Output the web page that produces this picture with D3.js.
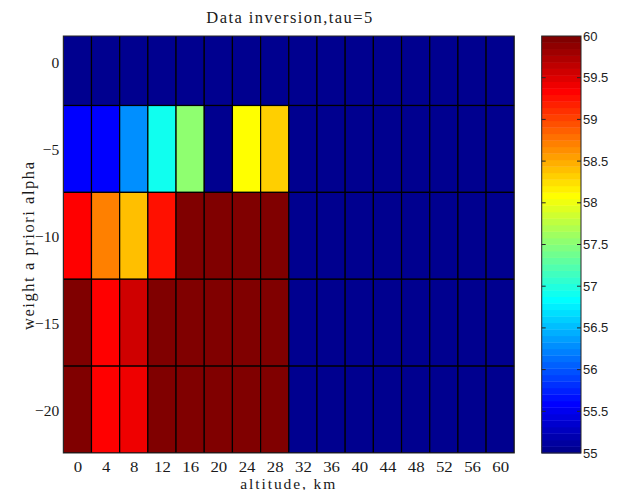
<!DOCTYPE html>
<html>
<head>
<meta charset="utf-8">
<script src="https://cdn.jsdelivr.net/npm/d3@7"></script>
<style>
  html, body { margin: 0; padding: 0; background: #fff; }
  svg { display: block; }
</style>
</head>
<body>
<svg id="chart" width="624" height="490"></svg>
<script>
// Altitude columns (km) and a-priori weight rows
const altitudes = [0, 4, 8, 12, 16, 20, 24, 28, 32, 36, 40, 44, 48, 52, 56, 60];
const alphas = [0, -5, -10, -15, -20];

// Inverted values per weight row, one entry per altitude
const rowAlpha0   = [55, 55, 55, 55, 55, 55, 55, 55, 55, 55, 55, 55, 55, 55, 55, 55];
const rowAlpha5   = [55.6, 55.6, 56.3, 56.9, 57.5, 55, 58.1, 58.3, 55, 55, 55, 55, 55, 55, 55, 55];
const rowAlpha10  = [59.35, 58.7, 58.4, 59.25, 60, 60, 60, 60, 55, 55, 55, 55, 55, 55, 55, 55];
const rowAlpha15  = [60, 59.35, 59.55, 60, 60, 60, 60, 60, 55, 55, 55, 55, 55, 55, 55, 55];
const rowAlpha20  = [60, 59.35, 59.42, 60, 60, 60, 60, 60, 55, 55, 55, 55, 55, 55, 55, 55];
const valueRows = [rowAlpha0, rowAlpha5, rowAlpha10, rowAlpha15, rowAlpha20];

const colorLimits = [55, 60];
const colorbarTicks = [55, 55.5, 56, 56.5, 57, 57.5, 58, 58.5, 59, 59.5, 60];
const yTicks = [0, -5, -10, -15, -20];

const titleText = "Data inversion,tau=5";
const xLabelText = "altitude, km";
const yLabelText = "weight a priori alpha";

// Classic 64-step jet colormap
function jetTable(m) {
  const n = Math.ceil(m / 4);
  const u = [];
  for (let i = 1; i <= n; i++) u.push(i / n);
  for (let i = 1; i < n; i++) u.push(1);
  for (let i = n; i >= 1; i--) u.push(i / n);
  const gOff = Math.ceil(n / 2) - (m % 4 === 1 ? 1 : 0);
  const J = Array.from({length: m}, () => [0, 0, 0]);
  u.forEach((val, k) => {
    const g = gOff + k + 1, r = g + n, b = g - n;
    if (r <= m) J[r - 1][0] = val;
    if (g <= m) J[g - 1][1] = val;
    if (b >= 1) J[b - 1][2] = val;
  });
  return J.map(c => d3.rgb(c[0] * 255, c[1] * 255, c[2] * 255).formatHex());
}
const jet = jetTable(64);
const colorScale = d3.scaleQuantize().domain(colorLimits).range(jet);
const colorOf = v => colorScale(Math.max(colorLimits[0], Math.min(colorLimits[1], v)));

const svg = d3.select("#chart");
const plot = {left: 63.3, right: 514.3, top: 36, bottom: 453};

const x = d3.scaleLinear().domain([-2, 62]).range([plot.left, plot.right]);
const y = d3.scaleLinear().domain([1.5, -22.5]).range([plot.top, plot.bottom]);

svg.append("defs").append("clipPath").attr("id", "plotClip")
  .append("rect")
  .attr("x", plot.left).attr("y", plot.top)
  .attr("width", plot.right - plot.left).attr("height", plot.bottom - plot.top);

// Heatmap cells
const cells = [];
alphas.forEach((a, i) => altitudes.forEach((h, j) => cells.push({a, h, v: valueRows[i][j]})));

svg.append("g").attr("clip-path", "url(#plotClip)")
  .selectAll("rect").data(cells).join("rect")
  .attr("x", d => x(d.h - 2))
  .attr("y", d => y(d.a + 2.5))
  .attr("width", d => x(d.h + 2) - x(d.h - 2))
  .attr("height", d => y(d.a - 2.5) - y(d.a + 2.5))
  .attr("fill", d => colorOf(d.v))
  .attr("stroke", "#000")
  .attr("stroke-width", 1.2);

// Axes frame
svg.append("rect")
  .attr("x", plot.left).attr("y", plot.top)
  .attr("width", plot.right - plot.left).attr("height", plot.bottom - plot.top)
  .attr("fill", "none").attr("stroke", "#262626").attr("stroke-width", 1);

const serif = "'Liberation Serif', 'Times New Roman', serif";
const sans = "'Liberation Sans', Arial, sans-serif";

// X axis tick labels
const xAxis = d3.axisBottom(x).tickValues(altitudes).tickSize(0).tickPadding(0)
  .tickFormat(d3.format("d"));
const gx = svg.append("g").attr("transform", `translate(0,${plot.bottom})`).call(xAxis);
gx.select(".domain").remove();
gx.selectAll("text")
  .attr("dy", null).attr("y", 19)
  .attr("font-family", serif).attr("font-size", 15).attr("fill", "#1a1a1a")
  .attr("textLength", function () { return this.getComputedTextLength() * 1.12; })
  .attr("lengthAdjust", "spacingAndGlyphs");

// Y axis tick labels
const yAxis = d3.axisLeft(y).tickValues(yTicks).tickSize(0).tickPadding(0)
  .tickFormat(d => d3.format("d")(d));
const gy = svg.append("g").attr("transform", `translate(${plot.left - 4},0)`).call(yAxis);
gy.select(".domain").remove();
gy.selectAll("text")
  .attr("x", 0).attr("dy", "0.35em")
  .attr("font-family", serif).attr("font-size", 15.5).attr("fill", "#1a1a1a");

// Title and axis labels
svg.append("text")
  .attr("x", (plot.left + plot.right) / 2 + 0.5).attr("y", 23)
  .attr("text-anchor", "middle")
  .attr("font-family", serif).attr("font-size", 16.5).attr("fill", "#1a1a1a")
  .attr("textLength", 166).attr("lengthAdjust", "spacing")
  .text(titleText);

svg.append("text")
  .attr("x", (plot.left + plot.right) / 2 - 1).attr("y", 488.5)
  .attr("text-anchor", "middle")
  .attr("font-family", serif).attr("font-size", 15.5).attr("fill", "#1a1a1a")
  .attr("textLength", 95).attr("lengthAdjust", "spacing")
  .text(xLabelText);

svg.append("text")
  .attr("transform", `translate(34,${(plot.top + plot.bottom) / 2 + 1.5}) rotate(-90)`)
  .attr("text-anchor", "middle")
  .attr("font-family", serif).attr("font-size", 16.5).attr("fill", "#1a1a1a")
  .attr("textLength", 168).attr("lengthAdjust", "spacing")
  .text(yLabelText);

// Colorbar
const cb = {left: 541.7, right: 581, top: 36, bottom: 453};
const cy = d3.scaleLinear().domain(colorLimits).range([cb.bottom, cb.top]);
const step = (colorLimits[1] - colorLimits[0]) / jet.length;
svg.append("g").selectAll("rect").data(jet).join("rect")
  .attr("x", cb.left)
  .attr("y", (c, i) => cy(colorLimits[0] + (i + 1) * step))
  .attr("width", cb.right - cb.left)
  .attr("height", (c, i) => cy(colorLimits[0] + i * step) - cy(colorLimits[0] + (i + 1) * step) + 0.4)
  .attr("fill", c => c);

svg.append("rect")
  .attr("x", cb.left).attr("y", cb.top)
  .attr("width", cb.right - cb.left).attr("height", cb.bottom - cb.top)
  .attr("fill", "none").attr("stroke", "#262626").attr("stroke-width", 1);

const cbTicks = svg.append("g");
cbTicks.selectAll("line.l").data(colorbarTicks.slice(1, -1)).join("line")
  .attr("class", "l")
  .attr("x1", cb.left).attr("x2", cb.left + 4)
  .attr("y1", d => cy(d)).attr("y2", d => cy(d))
  .attr("stroke", "#262626");
cbTicks.selectAll("line.r").data(colorbarTicks.slice(1, -1)).join("line")
  .attr("class", "r")
  .attr("x1", cb.right - 4).attr("x2", cb.right)
  .attr("y1", d => cy(d)).attr("y2", d => cy(d))
  .attr("stroke", "#262626");

svg.append("g").selectAll("text").data(colorbarTicks).join("text")
  .attr("x", cb.right + 2)
  .attr("y", d => cy(d))
  .attr("dy", "0.35em")
  .attr("font-family", sans).attr("font-size", 13).attr("fill", "#222")
  .text(d => String(d));
</script>
</body>
</html>
